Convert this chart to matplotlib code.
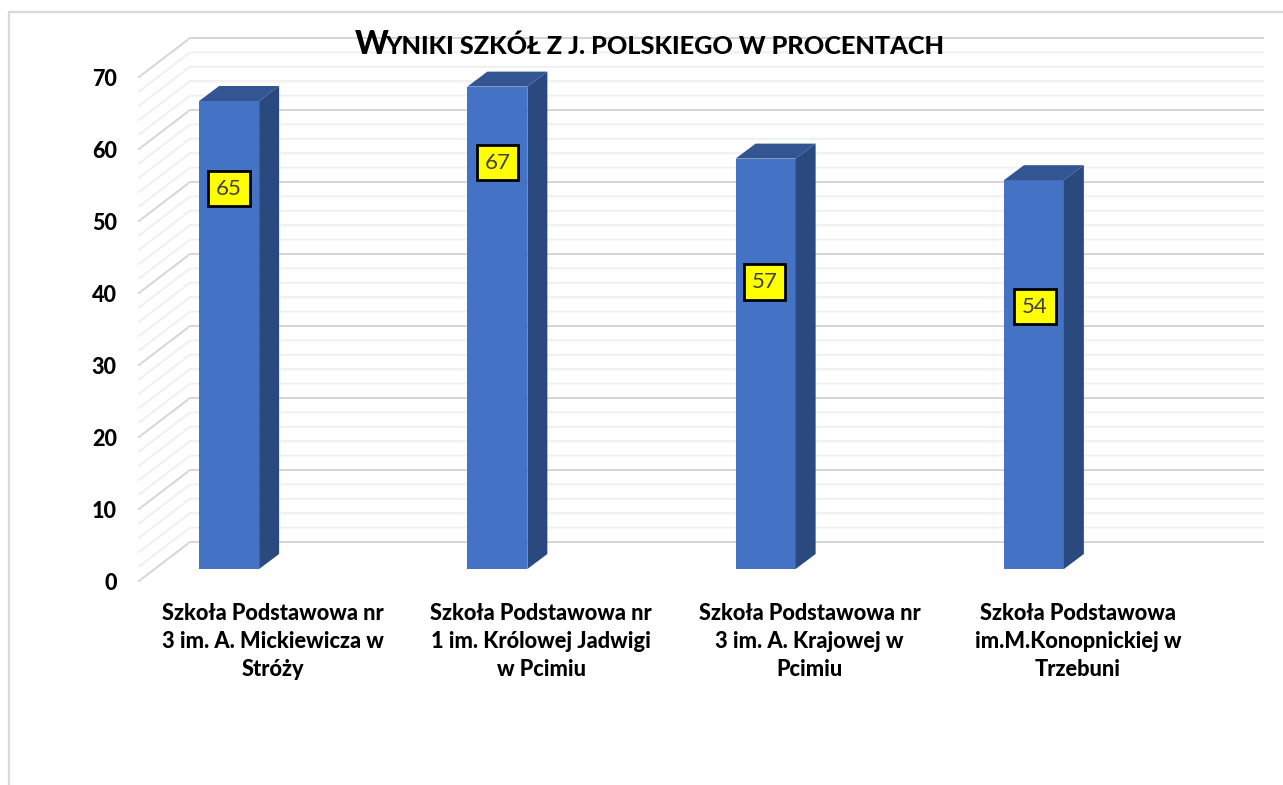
import matplotlib
matplotlib.use("Agg")
import matplotlib.pyplot as plt
from matplotlib.patches import Polygon, Rectangle
from matplotlib.lines import Line2D

plt.rcParams['font.family'] = ['Lato', 'DejaVu Sans']

schools = ["Szkoła Podstawowa nr\n3 im. A. Mickiewicza w\nStróży",
           "Szkoła Podstawowa nr\n1 im. Królowej Jadwigi\nw Pcimiu",
           "Szkoła Podstawowa nr\n3 im. A. Krajowej w\nPcimiu",
           "Szkoła Podstawowa\nim.M.Konopnickiej w\nTrzebuni"]
values = [65, 67, 57, 54]
major_ticks = [0, 10, 20, 30, 40, 50, 60, 70]
minor_ticks = [2, 4, 6, 8, 12, 14, 16, 18, 22, 24, 26, 28, 32, 34, 36, 38,
               42, 44, 46, 48, 52, 54, 56, 58, 62, 64, 66, 68]

W, H = 1283, 785
HEAVY = 900


def px_axes(fig, left, top, right, bottom):
    return fig.add_axes([left / W, 1 - bottom / H, (right - left) / W, (bottom - top) / H])


fig = plt.figure(figsize=(W / 100, H / 100), dpi=100, facecolor="white")
ax = px_axes(fig, 139, 77, 1212, 581)
ax.set_xlim(-0.5, 3.5)
ax.set_ylim(0, 70)
ax.patch.set_visible(False)
for s in ax.spines.values():
    s.set_visible(False)

# pixel sizes in data units
ux = 4 / (1212 - 139)
uy = 70 / (581 - 77)
wall_x, wall_y = 51 * ux, 39 * uy
x0, x1 = -0.5, 3.5

# walls
for t, col, lw in [(t, "#f0f0f0", 2.0) for t in minor_ticks] + [(t, "#d6d6d6", 2.0) for t in major_ticks]:
    ax.plot([x0, x0 + wall_x, x1 + wall_x], [t, t + wall_y, t + wall_y], color=col, lw=lw * 0.72,
            clip_on=False, zorder=1, solid_joinstyle="miter")

# bars, front face is lifted off the floor edge
bar_w = 60 * ux
lift_x, lift_y = -44 * ux, 12 * uy
dx, dy = 20 * ux, 15 * uy
for i, v in enumerate(values):
    a = i + lift_x - bar_w / 2
    b = a + bar_w
    low = lift_y
    high = v + lift_y
    ax.add_patch(Rectangle((a, low), bar_w, high - low, fc="#4472C4", ec="none", clip_on=False, zorder=3))
    ax.add_patch(Polygon([(a, high), (b, high), (b + dx, high + dy), (a + dx, high + dy)],
                         fc="#335693", ec="none", clip_on=False, zorder=3))
    ax.add_patch(Polygon([(b, low), (b + dx, low + dy), (b + dx, high + dy), (b, high)],
                         fc="#2A4A7F", ec="none", clip_on=False, zorder=3))

# data labels were moved by hand in the original
label_y = [54.5, 58.1, 41.5, 38.1]
label_dx = [0, 0, -1, 1]
for i, v in enumerate(values):
    ax.text(i + lift_x + label_dx[i] * ux, label_y[i], str(v), ha="center", va="center",
            fontsize=16, color="#404040", zorder=5,
            bbox=dict(boxstyle="square,pad=0.35", fc="#FFFF00", ec="black", lw=2))

ax.set_yticks(major_ticks)
ax.set_xticks(range(len(schools)))
ax.set_xticklabels(schools, fontsize=15.7, fontweight=HEAVY, color="black", linespacing=1.44)
ax.tick_params(axis="y", length=0, pad=16, labelsize=15.5, labelcolor="black")
ax.tick_params(axis="x", length=0, pad=15.5)
for lab in ax.get_yticklabels():
    lab.set_fontweight(HEAVY)

# small caps title, two sizes
fig.text(355 / W, 1 - 54 / H, "W", fontsize=23, fontweight=HEAVY, color="black", va="baseline")
fig.text(385 / W, 1 - 54 / H, "YNIKI SZKÓŁ Z J. POLSKIEGO W PROCENTACH", fontsize=18.2,
         fontweight=HEAVY, color="black", va="baseline")

# chart border, only top and left show in the crop
fig.add_artist(Line2D([9 / W, 9 / W, 1], [0, 1 - 12 / H, 1 - 12 / H], color="#d9d9d9", lw=1.6,
                      solid_joinstyle="miter"))

fig.savefig("out.png", dpi=100, facecolor="white")
